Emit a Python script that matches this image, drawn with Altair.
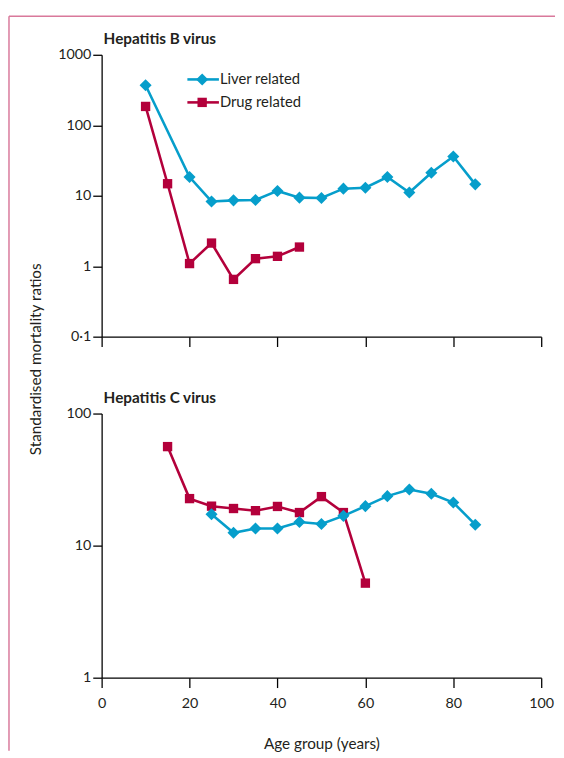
import altair as alt
import pandas as pd

# ---------------- data ----------------
series_names = ["Liver related", "Drug related"]
series_colors = ["#069ecb", "#b3003b"]
series_shapes = ["diamond", "square"]
series_sizes = [150, 90]

# Hepatitis B virus
hbv_liver_age = [10, 20, 25, 30, 35, 40, 45, 50, 55, 60, 65, 70, 75, 80, 85]
hbv_liver_smr = [370, 18.4, 8.3, 8.6, 8.7, 11.7, 9.4, 9.3, 12.6, 13.0, 18.4, 11.1, 21.2, 36.0, 14.5]
hbv_drug_age = [10, 15, 20, 25, 30, 35, 40, 45]
hbv_drug_smr = [185, 14.8, 1.09, 2.13, 0.65, 1.28, 1.38, 1.87]

# Hepatitis C virus
hcv_liver_age = [25, 30, 35, 40, 45, 50, 55, 60, 65, 70, 75, 80, 85]
hcv_liver_smr = [17.3, 12.5, 13.5, 13.5, 15.1, 14.6, 16.8, 19.9, 23.7, 26.6, 24.7, 21.2, 14.4]
hcv_drug_age = [15, 20, 25, 30, 35, 40, 45, 50, 55, 60]
hcv_drug_smr = [56.2, 22.7, 19.9, 19.1, 18.4, 19.8, 17.8, 23.5, 17.8, 5.2]

x_ticks = [0, 20, 40, 60, 80, 100]
top_y_ticks = [0.1, 1, 10, 100, 1000]
top_y_labels = ["0·1", "1", "10", "100", "1000"]
bot_y_ticks = [1, 10, 100]
bot_y_labels = ["1", "10", "100"]

panel_titles = ["Hepatitis B virus", "Hepatitis C virus"]
y_title = "Standardised mortality ratios"
x_title = "Age group (years)"

FONT = "Lato"
TEXT = "#231f20"
FRAME = "#d9799b"


def make_df(liver_age, liver_smr, drug_age, drug_smr):
    rows = []
    for a, v in zip(drug_age, drug_smr):
        rows.append({"age": a, "smr": v, "series": series_names[1]})
    for a, v in zip(liver_age, liver_smr):
        rows.append({"age": a, "smr": v, "series": series_names[0]})
    return pd.DataFrame(rows)


def label_expr(ticks, labels):
    expr = "datum.label"
    for v, l in zip(reversed(ticks), reversed(labels)):
        expr = f"abs(datum.value - {v}) < {v * 0.01} ? '{l}' : ({expr})"
    return expr


color_scale = alt.Scale(domain=series_names, range=series_colors)
shape_scale = alt.Scale(domain=series_names, range=series_shapes)
size_scale = alt.Scale(domain=series_names, range=series_sizes)


def panel(df, ydomain, yticks, ylabels, show_xlabels, title, height):
    x_axis = alt.Axis(values=x_ticks, labels=show_xlabels, title=x_title if show_xlabels else None,
                      tickSize=10, labelPadding=9, labelFlush=False, titleY=67, titleBaseline="middle",
                      titleFontWeight="normal", titleFontSize=15.5, titleFont=FONT, titleColor=TEXT)
    y_axis = alt.Axis(values=yticks, labelExpr=label_expr(yticks, ylabels), title=None,
                      tickSize=9, labelPadding=2, labelFlush=False)
    x = alt.X("age:Q", scale=alt.Scale(domain=[0, 100], nice=False), axis=x_axis)
    y = alt.Y("smr:Q", scale=alt.Scale(type="log", domain=ydomain, nice=False), axis=y_axis)

    layers = []
    for name in [series_names[1], series_names[0]]:
        sub = df[df["series"] == name]
        base = alt.Chart(sub)
        layers.append(base.mark_line(strokeWidth=2.6).encode(
            x=x, y=y, color=alt.Color("series:N", scale=color_scale, legend=None)))
        layers.append(base.mark_point(filled=True, opacity=1).encode(
            x=x, y=y,
            color=alt.Color("series:N", scale=color_scale, legend=None),
            shape=alt.Shape("series:N", scale=shape_scale, legend=None),
            size=alt.Size("series:N", scale=size_scale, legend=None)))

    tdf = pd.DataFrame({"t": [title]})
    layers.append(alt.Chart(tdf).mark_text(align="left", baseline="alphabetic", font=FONT,
                                           fontSize=15.5, fontWeight="bold", color=TEXT).encode(
        x=alt.value(2), y=alt.value(-11), text="t:N"))
    return alt.layer(*layers).properties(width=446, height=height)


top_df = make_df(hbv_liver_age, hbv_liver_smr, hbv_drug_age, hbv_drug_smr)
bot_df = make_df(hcv_liver_age, hcv_liver_smr, hcv_drug_age, hcv_drug_smr)

top = panel(top_df, [0.1, 1000], top_y_ticks, top_y_labels, False, panel_titles[0], 286)
bottom = panel(bot_df, [1, 100], bot_y_ticks, bot_y_labels, True, panel_titles[1], 268)

# legend drawn by hand inside the top panel
one = pd.DataFrame({"a": [0]})
legend_layers = []
for i, name in enumerate(series_names):
    yy = 25 + i * 23.3
    legend_layers.append(alt.Chart(one).mark_rule(color=series_colors[i], strokeWidth=2.6).encode(
        x=alt.value(87), x2=alt.value(119), y=alt.value(yy)))
    legend_layers.append(alt.Chart(one).mark_point(filled=True, opacity=1, color=series_colors[i],
                                                   shape=series_shapes[i], size=series_sizes[i]).encode(
        x=alt.value(102), y=alt.value(yy)))
    legend_layers.append(alt.Chart(pd.DataFrame({"t": [name]})).mark_text(
        align="left", baseline="middle", font=FONT, fontSize=15, color=TEXT).encode(
        x=alt.value(120), y=alt.value(yy), text="t:N"))

# shared y title and page frame
ytitle = alt.Chart(pd.DataFrame({"t": [y_title]})).mark_text(
    angle=270, align="center", baseline="middle", font=FONT, fontSize=15.5, color=TEXT).encode(
    x=alt.value(-67), y=alt.value(309), text="t:N")
frame_v = alt.Chart(one).mark_rule(color=FRAME, strokeWidth=1.5).encode(
    x=alt.value(-94), y=alt.value(-39), y2=alt.value(706))
frame_h = alt.Chart(one).mark_rule(color=FRAME, strokeWidth=1.5).encode(
    x=alt.value(-94), x2=alt.value(460), y=alt.value(-39))

top = alt.layer(top, *legend_layers, ytitle, frame_v, frame_h).properties(width=446, height=286)

chart = alt.vconcat(top, bottom, spacing=78, bounds="flush").properties(
    padding={"left": 0, "top": 2, "right": 0, "bottom": 0}
).configure_view(stroke=None).configure_axis(
    grid=False, domainColor="#000000", domainWidth=1.3, tickColor="#000000", tickWidth=1.3,
    labelFont=FONT, labelFontSize=14.5, labelColor=TEXT
)

chart.save("out.html", embed_options={"renderer": "svg", "actions": False})
